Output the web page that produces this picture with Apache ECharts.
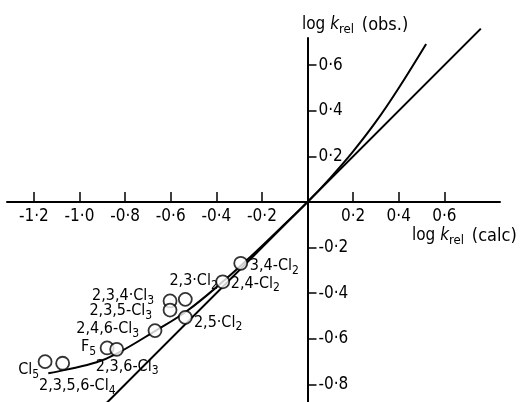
<!DOCTYPE html>
<html>
<head>
<meta charset="utf-8">
<script src="https://cdn.jsdelivr.net/npm/echarts@6/dist/echarts.min.js"></script>
<style>html,body{margin:0;padding:0;background:#fff}#c{width:525px;height:402px}</style>
</head>
<body>
<div id="c"></div>
<script>
// ---- data ----
const xTicks = [-1.2, -1.0, -0.8, -0.6, -0.4, -0.2, 0.2, 0.4, 0.6];
const xTickLabels = ['-1·2', '-1·0', '-0·8', '-0·6', '-0·4', '-0·2', '0·2', '0·4', '0·6'];
const yTicks = [-0.8, -0.6, -0.4, -0.2, 0.2, 0.4, 0.6];
const yTickLabels = ['-0·8', '-0·6', '-0·4', '-0·2', '0·2', '0·4', '0·6'];

const compounds = ['3,4-Cl2', '2,4-Cl2', '2,3·Cl2', '2,3,4·Cl3', '2,3,5-Cl3', '2,5·Cl2',
                   '2,4,6-Cl3', 'F5', '2,3,6-Cl3', 'Cl5', '2,3,5,6-Cl4'];
const calcVals = [-0.293, -0.372, -0.536, -0.603, -0.603, -0.536, -0.669, -0.879, -0.837, -1.151, -1.074];
const obsVals  = [-0.269, -0.350, -0.427, -0.434, -0.474, -0.506, -0.564, -0.640, -0.646, -0.700, -0.707];

const lineX = [-0.9, 0.76];
const lineY = [-0.9, 0.76];

const curveX = [-1.137, -1.056, -0.925, -0.837, -0.669, -0.529, -0.372, -0.25, -0.12, 0, 0.1, 0.2, 0.3, 0.4, 0.52];
const curveY = [-0.751, -0.735, -0.703, -0.665, -0.566, -0.478, -0.350, -0.240, -0.116, 0, 0.106, 0.222, 0.352, 0.500, 0.693];

// ---- label layout (align, dx, dy from circle centre) ----
const labelLayout = [
  ['left', 10, 3.5], ['left', 9, 2.5], ['left', -15, -17.5], ['right', -15, -4],
  ['right', -17, 1.7], ['left', 9.5, 6], ['right', -15, -0.7], ['right', -10, 0],
  ['left', -20, 18], ['right', -5, 9.5], ['left', -22.7, 23.7]
];

const FONT = '"Liberation Sans Narrow", "DejaVu Sans Condensed", "Liberation Sans", sans-serif';
const INK = '#000000';
const SYM = 13;

function sub(name) { return name.replace(/([A-Za-z])(\d)$/, '$1{s|$2}'); }
const richSub = {
  s: { fontSize: 12, fontFamily: FONT, color: INK, padding: [9, 0, 0, 0] }
};

const chart = echarts.init(document.getElementById('c'), null, { renderer: 'canvas' });

const scatterData = compounds.map((n, i) => ({
  value: [calcVals[i], obsVals[i]],
  label: {
    show: true,
    position: [SYM / 2 + labelLayout[i][1], SYM / 2 + labelLayout[i][2]],
    align: labelLayout[i][0],
    verticalAlign: 'middle',
    formatter: sub(n),
    fontSize: 16,
    fontFamily: FONT,
    color: INK,
    opacity: 1,
    textBorderWidth: 0,
    rich: richSub
  }
}));

const nameRich = {
  k: { fontSize: 17, fontStyle: 'italic', fontFamily: FONT, color: INK },
  s: { fontSize: 13, fontFamily: FONT, color: INK, padding: [10, 0, 0, 0] },
  p: { fontSize: 18, fontFamily: FONT, color: INK, padding: [0, 0, 0, 3] }
};

const option = {
  animation: false,
  backgroundColor: '#fff',
  grid: { left: 7, right: 25, top: 38, bottom: 0 },
  xAxis: {
    type: 'value', min: -1.318, max: 0.844, position: 'bottom', offset: -200,
    axisLine: { onZero: false, lineStyle: { color: INK, width: 2 } },
    axisTick: { inside: true, length: 10, customValues: xTicks, lineStyle: { color: INK, width: 1.5 } },
    axisLabel: {
      customValues: xTicks, margin: 6, fontSize: 17, fontFamily: FONT, color: INK,
      formatter: v => xTickLabels[xTicks.findIndex(t => Math.abs(t - v) < 1e-6)]
    },
    splitLine: { show: false }
  },
  yAxis: {
    type: 'value', min: -0.877, max: 0.719, position: 'left', offset: -300.5,
    axisLine: { onZero: false, lineStyle: { color: INK, width: 2 } },
    axisTick: { inside: true, length: 9, customValues: yTicks, lineStyle: { color: INK, width: 1.5 } },
    axisLabel: {
      inside: true, customValues: yTicks, margin: 11, fontSize: 17, fontFamily: FONT, color: INK,
      formatter: v => yTickLabels[yTicks.findIndex(t => Math.abs(t - v) < 1e-6)]
    },
    splitLine: { show: false }
  },
  graphic: [
    {
      type: 'text', left: 302, top: 16, z: 10,
      style: { text: 'log {k|k}{s|rel} {p|(obs.)}', fontSize: 17, fontFamily: FONT, fill: INK, rich: nameRich }
    },
    {
      type: 'text', left: 412, top: 227, z: 10,
      style: { text: 'log {k|k}{s|rel} {p|(calc)}', fontSize: 17, fontFamily: FONT, fill: INK, rich: nameRich }
    }
  ],
  series: [
    {
      type: 'line', data: lineX.map((x, i) => [x, lineY[i]]), symbol: 'none', clip: false,
      lineStyle: { color: INK, width: 2 }, z: 2
    },
    {
      type: 'line', data: curveX.map((x, i) => [x, curveY[i]]), symbol: 'none', smooth: 0.4, clip: false,
      lineStyle: { color: INK, width: 2 }, z: 2
    },
    {
      type: 'scatter', data: scatterData, symbol: 'circle', symbolSize: SYM,
      itemStyle: { color: '#fff', borderColor: INK, borderWidth: 1.8 }, z: 5
    }
  ]
};
chart.setOption(option);
</script>
</body>
</html>
